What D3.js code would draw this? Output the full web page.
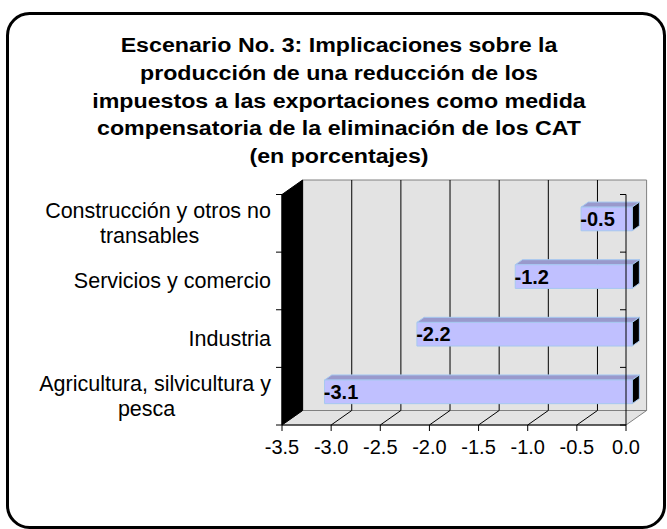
<!DOCTYPE html>
<html>
<head>
<meta charset="utf-8">
<script src="https://cdn.jsdelivr.net/npm/d3@7"></script>
<style>
  body { margin: 0; background: #fff; }
  svg { display: block; font-family: "Liberation Sans", Arial, sans-serif; }
</style>
</head>
<body>
<div id="chart"></div>
<script>
// chart data
var titleLines = [
  "Escenario No. 3: Implicaciones sobre la",
  "producción de una reducción de los",
  "impuestos a las exportaciones como medida",
  "compensatoria de la eliminación de los CAT",
  "(en porcentajes)"
];
var categories = ["Construcción y otros no transables", "Servicios y comercio", "Industria", "Agricultura, silvicultura y pesca"];
var categoryLines = [["Construcción y otros no", "transables"], ["Servicios y comercio"], ["Industria"], ["Agricultura, silvicultura y", "pesca"]];
var values = [-0.52, -1.19, -2.19, -3.13];
var xTicks = [-3.5, -3.0, -2.5, -2.0, -1.5, -1.0, -0.5, 0.0];

var width = 667, height = 529;
var DX = 20.6, DY = 14.5;     // depth offset of the 3d box
var d0 = 0.3, d1 = 0.65;      // bar depth (front / back)
var fmt = d => d.toFixed(1);  // plain hyphen minus, like the original

var svg = d3.select("#chart").append("svg")
  .attr("width", width)
  .attr("height", height);

// outer frame
svg.append("rect")
  .attr("x", 7.5).attr("y", 13.5)
  .attr("width", 657).attr("height", 514)
  .attr("rx", 22).attr("ry", 22)
  .attr("fill", "#fff")
  .attr("stroke", "#000")
  .attr("stroke-width", 3);

// title (the original is a bit stretched sideways)
svg.append("g")
  .attr("transform", "translate(339,0) scale(1.16,1)")
  .append("text")
  .attr("text-anchor", "middle")
  .attr("font-weight", "bold")
  .attr("font-size", "20px")
  .selectAll("tspan")
  .data(titleLines)
  .enter()
  .append("tspan")
  .attr("x", 0)
  .attr("y", (d, i) => 52.5 + i * 27.6)
  .text(d => d);

var x = d3.scaleLinear().domain([-3.5, 0]).range([282, 626]);
var y = d3.scaleBand().domain(categories).range([194.5, 425]).paddingInner(0.59).paddingOuter(0.295);

var top0 = y.range()[0], bot0 = y.range()[1];
var x0 = x.range()[0], x1 = x.range()[1];

function pt(px, py, d) {
  return [px + d * DX, py - d * DY];
}
function poly(points) {
  return points.map(p => p.join(",")).join(" ");
}

var plot = svg.append("g");

// back wall
plot.append("polygon")
  .attr("points", poly([pt(x0, top0, 1), pt(x1, top0, 1), pt(x1, bot0, 1), pt(x0, bot0, 1)]))
  .attr("fill", "#e3e3e3")
  .attr("stroke", "#808080");

// floor
plot.append("polygon")
  .attr("points", poly([pt(x0, bot0, 0), pt(x1, bot0, 0), pt(x1, bot0, 1), pt(x0, bot0, 1)]))
  .attr("fill", "#e3e3e3")
  .attr("stroke", "#808080");

// gridlines on wall and floor
var inner = xTicks.filter(t => t > -3.5 && t < 0);
plot.selectAll(".grid")
  .data(inner)
  .enter()
  .append("polyline")
  .attr("points", d => poly([pt(x(d), bot0, 0), pt(x(d), bot0, 1), pt(x(d), top0, 1)]))
  .attr("fill", "none")
  .attr("stroke", "#000")
  .attr("stroke-width", 1);

// left side wall
plot.append("polygon")
  .attr("points", poly([pt(x0, top0, 0), pt(x0, top0, 1), pt(x0, bot0, 1), pt(x0, bot0, 0)]))
  .attr("fill", "#000")
  .attr("stroke", "#000");

// bars
var bars = plot.selectAll(".bar")
  .data(values)
  .enter()
  .append("g");

bars.append("polygon")
  .attr("points", (d, i) => {
    var yt = y(categories[i]);
    return poly([pt(x(d), yt, d0), pt(x(d), yt, d1), pt(x(0), yt, d1), pt(x(0), yt, d0)]);
  })
  .attr("fill", "#9999cc")
  .attr("stroke", "#a6c8f0")
  .attr("stroke-width", 1);

bars.append("polygon")
  .attr("points", (d, i) => {
    var yt = y(categories[i]), yb = yt + y.bandwidth();
    return poly([pt(x(0), yt, d0), pt(x(0), yt, d1), pt(x(0), yb, d1), pt(x(0), yb, d0)]);
  })
  .attr("fill", "#000")
  .attr("stroke", "#a6c8f0")
  .attr("stroke-width", 1);

bars.append("polygon")
  .attr("points", (d, i) => {
    var yt = y(categories[i]), yb = yt + y.bandwidth();
    return poly([pt(x(d), yt, d0), pt(x(0), yt, d0), pt(x(0), yb, d0), pt(x(d), yb, d0)]);
  })
  .attr("fill", "#c0c0ff")
  .attr("stroke", "#a6c8f0")
  .attr("stroke-width", 1);

// value labels
bars.append("text")
  .attr("x", d => x(d) + d0 * DX + 16.5)
  .attr("y", (d, i) => y(categories[i]) - d0 * DY + y.bandwidth() / 2 + 7)
  .attr("text-anchor", "middle")
  .attr("font-weight", "bold")
  .attr("font-size", "20px")
  .text(d => fmt(d));

// axes
var axisG = svg.append("g");
axisG.append("line")
  .attr("x1", x0).attr("x2", x1)
  .attr("y1", bot0).attr("y2", bot0)
  .attr("stroke", "#000");
axisG.append("line")
  .attr("x1", x(0)).attr("x2", x(0))
  .attr("y1", top0).attr("y2", bot0)
  .attr("stroke", "#000");
axisG.append("line")
  .attr("x1", x0).attr("x2", x0)
  .attr("y1", top0).attr("y2", bot0)
  .attr("stroke", "#000");

axisG.selectAll(".xtick")
  .data(xTicks)
  .enter()
  .append("line")
  .attr("x1", d => x(d)).attr("x2", d => x(d))
  .attr("y1", bot0).attr("y2", bot0 + 6)
  .attr("stroke", "#000");

axisG.selectAll(".xlabel")
  .data(xTicks)
  .enter()
  .append("text")
  .attr("x", d => x(d))
  .attr("y", bot0 + 29)
  .attr("text-anchor", "middle")
  .attr("font-size", "20px")
  .text(d => fmt(d));

var bounds = categories.map(c => y(c) - y.step() * y.paddingInner() / 2).concat([bot0]);
bounds[0] = top0;
[x0, x(0)].forEach(function (ax) {
  axisG.selectAll(null)
    .data(bounds)
    .enter()
    .append("line")
    .attr("x1", ax - 6).attr("x2", ax)
    .attr("y1", d => d).attr("y2", d => d)
    .attr("stroke", "#000");
});

// category labels, wrapped lines centred in a right-aligned block
var catG = svg.append("g").attr("font-size", "21.5px");
categoryLines.forEach(function (lines, i) {
  var cy = y(categories[i]) + y.bandwidth() / 2;
  var t = catG.append("text").attr("text-anchor", "middle");
  var tmp = t.append("tspan").text(lines[0]);
  var w = d3.max(lines, function (l) { tmp.text(l); return tmp.node().getComputedTextLength(); });
  tmp.remove();
  var cx = 271 - w / 2;
  t.selectAll("tspan")
    .data(lines)
    .enter()
    .append("tspan")
    .attr("x", (l, j) => j === 0 ? cx : cx - 8.5)
    .attr("y", (l, j) => cy + 7.5 + (j - (lines.length - 1) / 2) * 25)
    .text(l => l);
});
</script>
</body>
</html>
